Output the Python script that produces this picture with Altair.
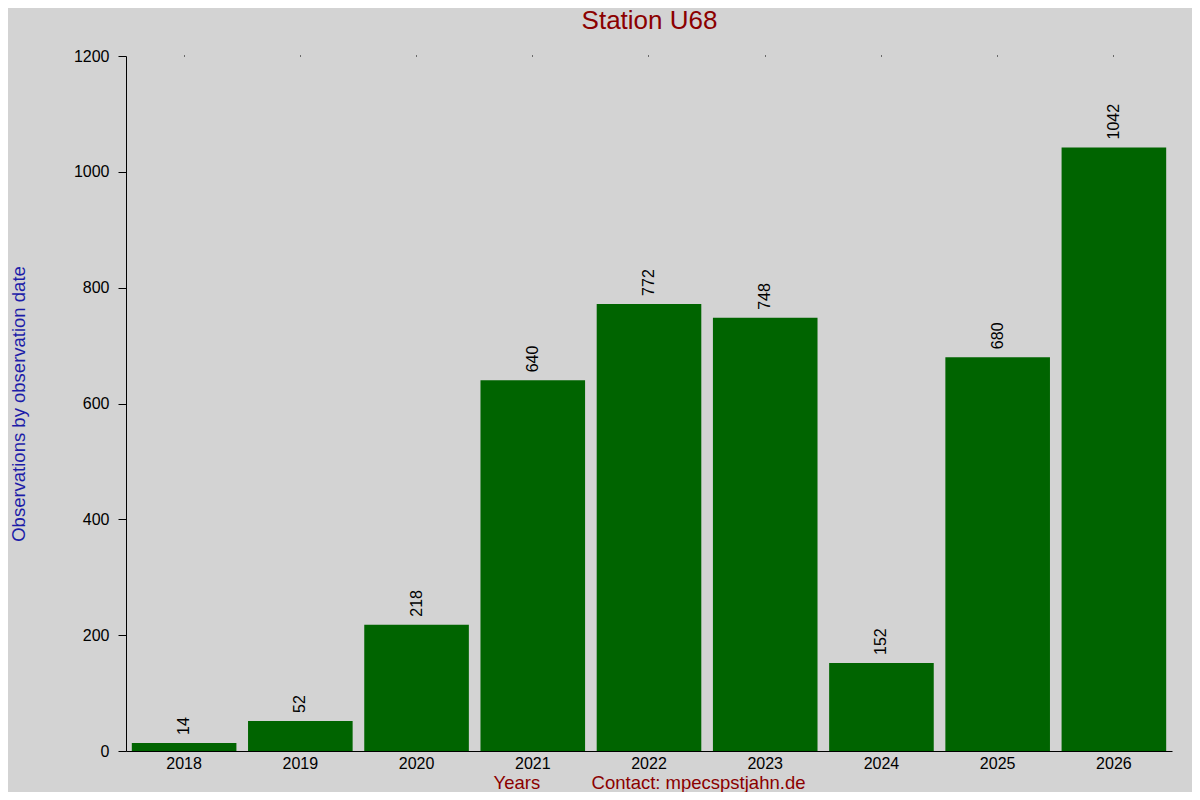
import altair as alt
import pandas as pd

years = ["2018", "2019", "2020", "2021", "2022", "2023", "2024", "2025", "2026"]
counts = [14, 52, 218, 640, 772, 748, 152, 680, 1042]
y_ticks = [0, 200, 400, 600, 800, 1000, 1200]

df = pd.DataFrame({"year": years, "count": counts})

FONT = "Liberation Sans"
NBSP = "\u00a0"
x_title = "Years" + NBSP * 10 + "Contact: mpecspstjahn.de"
main_title = "Station U68"

x_scale = alt.Scale(paddingInner=0.1, paddingOuter=0.05)
y_scale = alt.Scale(domain=[0, 1200], nice=False)

y_axis = alt.Axis(values=y_ticks, format="d", grid=False, tickSize=8, tickColor="#000000",
                  domainColor="#000000", labelFontSize=16, labelFont=FONT,
                  labelColor="#000000", labelPadding=9,
                  title="Observations by observation date",
                  titleFont=FONT, titleFontSize=18.5, titleFontWeight="normal",
                  titleColor="#1c1ca8", titleAngle=270,
                  titleX=-108, titleY=347.5, titleAlign="center",
                  titleBaseline="middle")

bars = alt.Chart(df).mark_bar(color="#006400").encode(
    x=alt.X("year:N", scale=x_scale, sort=years,
            axis=alt.Axis(orient="bottom", title=x_title, labelAngle=0,
                          ticks=True, tickSize=0, labelPadding=4,
                          labelFontSize=16, labelFont=FONT, labelColor="#000000",
                          domainColor="#000000", domainWidth=1,
                          titleFont=FONT, titleFontSize=18.5, titleFontWeight="normal",
                          titleColor="#8b0000", titleX=523, titleY=31,
                          titleAlign="center", titleBaseline="middle")),
    y=alt.Y("count:Q", scale=y_scale, axis=y_axis),
)

labels = alt.Chart(df).mark_text(angle=270, align="left", baseline="middle", dx=8,
                                  fontSize=16, font=FONT, color="#000000").encode(
    x=alt.X("year:N", scale=x_scale, sort=years,
            axis=alt.Axis(orient="top", title=main_title, labels=False, domain=False,
                          ticks=True, tickSize=1, tickWidth=1, tickColor="#000000",
                          titleFont=FONT, titleFontSize=26, titleFontWeight="normal",
                          titleColor="#8b0000", titleX=523, titleY=-28,
                          titleAlign="center", titleBaseline="alphabetic")),
    y=alt.Y("count:Q", scale=y_scale, axis=y_axis),
    text="count:Q",
)

chart = alt.layer(bars, labels).resolve_axis(x="independent").properties(
    width=1046, height=695,
    background="#d3d3d3",
    autosize=alt.AutoSizeParams(type="none"),
    padding={"left": 118, "top": 48, "right": 20, "bottom": 41},
).configure_view(stroke=None)

chart.save("out.html", embed_options={"renderer": "svg", "actions": False})
